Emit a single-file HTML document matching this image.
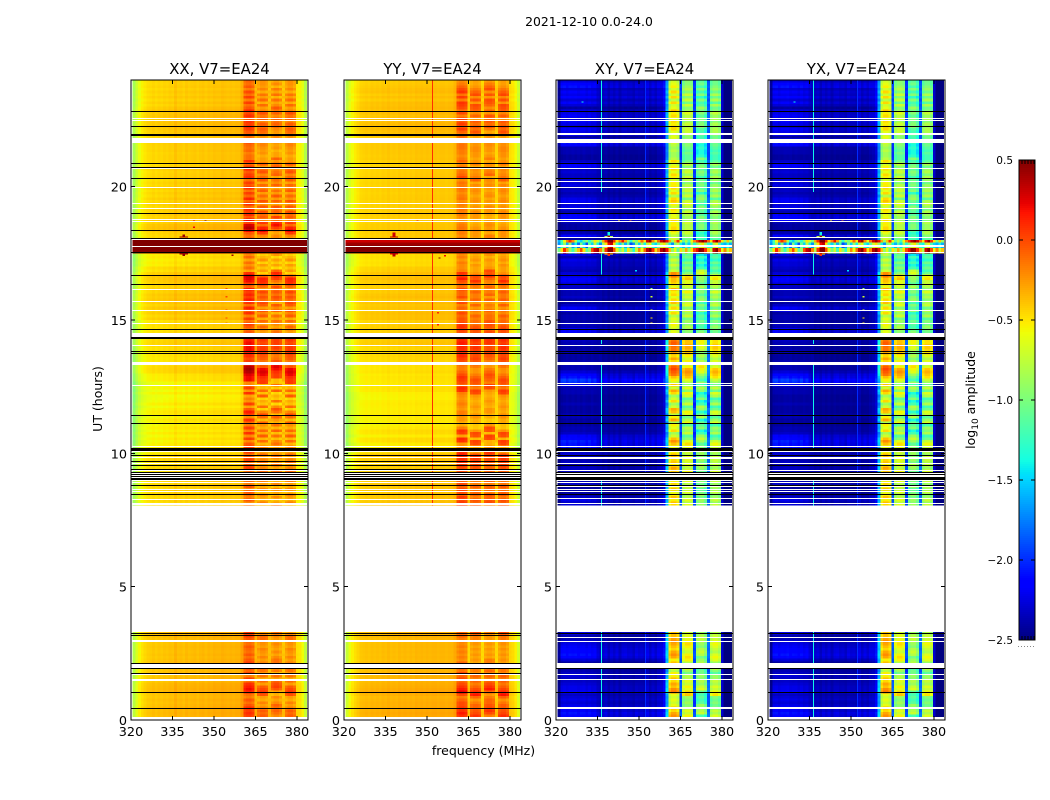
<!DOCTYPE html>
<html>
<head>
<meta charset="utf-8">
<title>2021-12-10 spectrogram</title>
<style>
html,body{margin:0;padding:0;background:#fff;width:1050px;height:800px;overflow:hidden}
svg{display:block}
text{font-family:"DejaVu Sans","Liberation Sans",sans-serif;fill:#000}
</style>
</head>
<body>
<svg id="fig" xmlns="http://www.w3.org/2000/svg" width="1050" height="800" viewBox="0 0 1050 800">
<rect x="0" y="0" width="1050" height="800" fill="#fff"/>
<text x="589" y="26" font-size="12.4" text-anchor="middle">2021-12-10 0.0-24.0</text>
<text x="483.5" y="755" font-size="12.5" text-anchor="middle">frequency (MHz)</text>
<text x="102" y="399" font-size="12.5" text-anchor="middle" transform="rotate(-90 102 399)">UT (hours)</text>
<text x="975" y="400" font-size="12.5" text-anchor="middle" transform="rotate(-90 975 400)">log<tspan font-size="9" dy="3">10</tspan><tspan dy="-3"> amplitude</tspan></text>
</svg>
<script>
// ---------- data (log10 amplitude) ----------
const xTicks = [320, 335, 350, 365, 380];
const yTicks = [0, 5, 10, 15, 20];
const cbarTicks = [0.5, 0, -0.5, -1, -1.5, -2, -2.5];
const panelTitles = ["XX, V7=EA24", "YY, V7=EA24", "XY, V7=EA24", "YX, V7=EA24"];
const dataRanges = [[0.12, 3.3], [8.05, 24]];

const xxProfile = [-0.82,-0.68,-0.58,-0.52,-0.48,-0.45,-0.44,-0.42,-0.44,-0.42,-0.43,-0.41,-0.42,-0.40,-0.41,-0.36,-0.40,-0.39,-0.41,-0.38,-0.40,-0.39,-0.38,-0.40,-0.38,-0.37,-0.39,-0.37,-0.38,-0.36,-0.37,-0.37,-0.35,-0.36,-0.37,-0.36,-0.37,-0.36,-0.36,-0.30,-0.08,-0.04,-0.03,-0.08,-0.34,-0.24,-0.18,-0.18,-0.22,-0.36,-0.26,-0.20,-0.20,-0.26,-0.38,-0.24,-0.18,-0.18,-0.24,-0.50,-0.52,-0.60,-0.78];
const yyProfile = [-0.75,-0.62,-0.55,-0.50,-0.46,-0.42,-0.41,-0.40,-0.41,-0.39,-0.40,-0.39,-0.40,-0.38,-0.39,-0.37,-0.39,-0.38,-0.39,-0.37,-0.38,-0.37,-0.38,-0.37,-0.38,-0.36,-0.37,-0.36,-0.37,-0.36,-0.37,-0.36,-0.36,-0.37,-0.36,-0.36,-0.37,-0.36,-0.36,-0.32,-0.12,-0.08,-0.08,-0.12,-0.42,-0.20,-0.16,-0.16,-0.20,-0.43,-0.20,-0.16,-0.16,-0.20,-0.42,-0.20,-0.14,-0.14,-0.20,-0.45,-0.48,-0.55,-0.70];
const xyProfile = [-2.42,-2.34,-2.32,-2.30,-2.32,-2.30,-2.32,-2.30,-2.33,-2.30,-2.32,-2.33,-2.30,-2.33,-2.32,-2.30,-2.35,-2.33,-2.36,-2.34,-2.36,-2.33,-2.36,-2.34,-2.36,-2.34,-2.36,-2.35,-2.36,-2.34,-2.36,-2.35,-2.30,-2.36,-2.34,-2.35,-2.30,-2.28,-2.20,-1.60,-0.62,-0.50,-0.50,-0.60,-1.90,-0.85,-0.75,-0.75,-0.82,-1.95,-1.10,-1.00,-1.00,-1.15,-1.85,-0.95,-0.85,-0.85,-0.95,-2.20,-2.40,-2.40,-2.42];
const yxProfile = [-2.42,-2.33,-2.32,-2.31,-2.32,-2.30,-2.31,-2.30,-2.33,-2.31,-2.32,-2.33,-2.31,-2.33,-2.32,-2.30,-2.35,-2.34,-2.36,-2.34,-2.36,-2.34,-2.36,-2.34,-2.36,-2.35,-2.36,-2.35,-2.36,-2.34,-2.36,-2.35,-2.30,-2.36,-2.35,-2.35,-2.31,-2.28,-2.20,-1.60,-0.62,-0.50,-0.50,-0.60,-1.90,-0.85,-0.75,-0.75,-0.82,-1.95,-1.10,-1.00,-1.00,-1.15,-1.85,-0.95,-0.85,-0.85,-0.95,-2.20,-2.40,-2.40,-2.42];

const coBandWeight = [.15,.15,.15,.15,.15,.15,.15,.15,.15,.15,.15,.15,.15,.15,.15,.15,.15,.15,.15,.15,.15,.15,.15,.15,.15,.15,.15,.15,.15,.15,.15,.15,.15,.15,.15,.15,.15,.15,.15,.15,1,1,1,1,.3,1,1,1,1,.3,1,1,1,1,.3,1,1,1,1,.15,.15,.15,.15];
const crossBandWeight = [0,0,0,0,0,0,0,0,0,0,0,0,0,0,0,0,0,0,0,0,0,0,0,0,0,0,0,0,0,0,0,0,0,0,0,0,0,0,0,.5,1,1,1,1,.3,1,1,1,1,.3,1,1,1,1,.3,1,1,1,1,0,0,0,0];
const crossShape = [.3,1,1,.8,1,.9,1,.8,1,.9,.8,1,.7,.9,.5,.3,.5,.6,.4,.6,.5,.6,.4,.6,.7,.5,.6,.4,.7,.5,.6,.4,.6,.5,.7,.5,.6,.5,.7,0,0,0,0,0,0,0,0,0,0,0,0,0,0,0,0,0,0,0,0,0,0,0,0];
// which neighbouring row each sub-band follows (stripes drift between sub-bands)
const bandRowShift = [0,0,0,0,0,0,0,0,0,0,0,0,0,0,0,0,0,0,0,0,0,0,0,0,0,0,0,0,0,0,0,0,0,0,0,0,0,0,0,0,0,0,0,0,0,1,1,1,1,0,-1,-1,-1,-1,0,1,1,1,1,0,0,0,0];

// per-row values (hundredths): 0.0-3.2 h then 8.0-23.9 h in 0.1 h steps
const xxBandRow = [0,5,8,5,8,0,-5,0,-8,-5,10,15,12,8,-5,5,-8,3,-3,3,5,5,0,-5,0,-5,-3,0,-5,-3,0,5,5,
-5,-10,0,-8,-5,0,-10,0,-8,-5,
0,-5,5,-5,5,0,-5,5,0,-5,
5,-5,5,0,-10,5,-10,8,-8,5,
-8,-3,8,-10,5,12,0,-15,5,-12,
-8,-15,8,-12,5,-10,-10,15,15,18,
25,28,25,10,5,3,8,10,15,15,
15,15,12,15,5,0,-5,0,5,-5,
5,-8,8,0,10,-5,8,12,5,10,
5,12,-3,5,15,18,20,8,-15,-5,
-12,-5,-15,-3,-10,-15,0,0,0,0,
0,-5,0,15,25,20,5,15,0,8,
5,10,-5,8,-3,10,-3,5,-5,8,
0,5,-5,8,5,0,10,5,-3,8,
-5,-5,-8,-3,-5,-3,0,0,-5,-3,
0,5,8,5,8,0,8,3,10,0,
-5,5,-8,5,-5,3,-8,0,-5,-3];
const yyBandRow = [0,10,15,10,8,5,5,0,-5,5,20,15,10,5,0,5,0,5,-3,0,0,0,-8,-5,-8,-5,-8,-5,-8,-5,-5,0,0,
10,8,5,8,0,5,5,0,5,0,
0,5,5,5,5,8,10,10,12,15,
10,-5,-10,-10,10,12,-12,8,10,-5,
-15,-15,-10,-10,-5,-5,-10,-8,-5,-8,
-10,-8,-5,10,12,0,5,8,10,5,
0,-5,-5,0,5,8,12,10,10,12,
15,15,12,15,10,5,8,10,8,3,
3,0,5,-3,0,-5,5,-5,5,0,
0,5,-3,0,5,15,8,10,-5,-8,
-8,-5,-10,-5,-8,-10,0,0,0,0,
0,-8,-5,-5,-3,-5,-8,-10,-8,-5,
-5,-3,-8,-5,-8,-3,-5,-8,-5,-3,
-5,-3,-8,5,0,-3,-5,-3,-8,0,
-5,-8,-5,-5,-3,-3,-5,-5,-3,-8,
0,8,3,8,3,8,-5,5,-3,5,
8,10,-5,8,-3,10,5,0,-5,-8];
const crossBandRow = [0,30,25,15,20,5,0,5,0,5,35,30,20,25,15,20,10,10,-5,5,25,20,10,25,30,25,15,20,25,30,25,20,20,
15,20,10,20,10,5,20,10,15,10,
20,25,10,20,25,10,20,15,20,20,
10,15,5,20,30,20,0,-10,15,5,
10,-10,25,10,-5,20,25,0,-10,15,
0,-10,15,25,0,20,0,10,20,35,
40,45,40,25,15,25,15,25,35,35,
40,40,35,35,15,5,0,5,10,0,
5,-5,15,5,15,0,20,15,5,15,
10,25,5,15,20,20,35,30,0,-10,
0,-10,0,-15,-5,-10,0,0,0,0,
0,-5,5,15,15,10,10,15,5,5,
10,15,0,10,20,15,-5,15,5,15,
10,10,0,10,15,5,15,10,0,15,
-5,-10,-10,-5,-10,-5,0,0,5,0,
5,15,15,10,15,5,15,10,20,5,
0,15,-5,15,0,15,0,10,5,0];
const crossBgRow = [0,30,35,25,30,20,15,20,15,10,25,20,20,15,10,10,15,10,5,0,0,0,15,30,35,30,30,25,20,10,5,5,20,
15,10,20,10,5,0,0,0,10,5,
10,15,5,10,10,5,10,5,10,15,
10,25,35,35,40,30,25,10,5,5,
0,0,0,5,5,0,0,0,5,0,
0,0,5,5,5,20,45,50,35,30,
15,5,5,5,5,0,0,5,5,0,
5,5,10,0,0,25,25,5,10,0,
5,5,0,15,25,10,0,0,10,5,
5,10,10,15,25,30,20,15,5,10,
15,15,20,5,20,35,0,0,0,0,
0,25,5,0,0,0,5,25,30,25,
5,15,20,15,25,20,10,5,10,5,
20,15,15,10,10,15,10,25,30,10,
0,0,5,5,5,30,35,30,0,20,
20,25,15,20,25,15,25,20,20,0,
15,25,15,30,20,25,15,35,30,15];
// hourly level of the co-polar background (hundredths), hours 0-23
const coLevel = [4,3,3,3,0,0,0,0,-3,-5,-12,-12,-14,-10,-6,-1,-3,-8,-2,-3,-4,-1,0,-2];
const coGain = 1.6;
const crossGain = 1.6;
const crossRowMean = 12;
const crossFloorShift = -0.1;

// interference storm rows for cross-hands
const stormA = [-1.6,-1.2,-0.6,-0.2,0.1,-0.2,-0.8,-1.3,-1.5,-1.1,-0.9,-1.3,-1.0,-0.5,-0.7,-1.0,-0.3,0.1,0.5,0.5,0.1,-0.5,-0.2,0.2,-0.3,-0.9,-1.3,-0.8,-1.0,-0.5,-0.1,-0.5,0.3,0.45,-0.2,-0.6,-0.1,0.3,0.45,0.2,-0.3,-0.9,-0.4,0.1,-0.6,-1.1,-0.8,-1.2,-0.6,-0.2,0.1,0.35,0.5,0.3,-0.1,-0.5,0.2,0.5,0.1,-0.5,-1.0,-0.4,-0.9];
const stormB = [-1.0,-0.5,0.1,-0.3,-0.9,-1.2,-0.8,-0.4,0.0,-0.5,-1.1,-0.9,0.0,0.3,0.4,-0.2,-0.8,0.1,0.5,0.5,0.0,-0.6,-1.0,-0.7,-1.2,-0.5,-0.9,-1.3,-0.7,-0.2,-0.6,-0.1,0.35,0.5,0.1,-0.5,-0.2,0.35,0.5,0.2,-0.4,-0.9,-0.6,-1.1,-0.5,-0.8,-0.3,-0.9,-0.5,0.0,0.2,0.5,0.45,0.1,-0.4,-0.8,0.3,0.5,0.0,-0.6,-0.2,-0.7,-0.4];
const stormC = [-1.7,-1.3,-0.9,-1.6,-1.0,-1.7,-1.4,-1.8,-1.0,-1.5,-1.9,-1.1,-1.5,-0.8,-1.4,-1.7,-0.9,-0.5,0.2,0.3,-0.5,-1.2,-1.5,-1.0,-1.6,-1.2,-1.9,-1.7,-1.0,-1.5,-0.9,-1.4,-0.8,-0.6,-1.3,-1.5,-1.1,-0.7,-0.5,-0.9,-1.4,-1.7,-1.0,-0.8,-1.4,-1.6,-1.2,-1.5,-0.9,-1.3,-1.0,-0.7,-0.5,-0.9,-1.3,-1.4,-0.8,-0.6,-1.2,-1.5,-1.6,-1.4,-1.6];

// flagged time ranges [startHour, endHour]
const coBlack = [[22.79,22.83],[22.23,22.27],[21.91,21.99],[20.84,20.88],[20.70,20.74],[20.28,20.32],[18.98,19.02],[18.35,18.38],[18.06,18.09],[17.51,17.54],[16.65,16.69],[16.31,16.35],[14.63,14.66],[14.27,14.35],[13.80,13.84],[13.73,13.76],[11.40,11.44],[11.10,11.14],[10.10,10.20],[9.90,9.94],[9.69,9.73],[9.51,9.55],[9.38,9.41],[9.2625,9.30],[9.1875,9.225],[9.1125,9.15],[9.0,9.075],[8.78,8.81],[8.44,8.48],[3.22,3.26],[3.14,3.18],[2.10,2.14],[1.91,1.95],[1.72,1.76],[1.01,1.05],[0.41,0.45]];
const coWhite = [[22.56,22.59],[22.47,22.50],[21.64,21.84],[20.66,20.69],[19.95,19.99],[19.34,19.38],[19.16,19.20],[18.76,18.80],[18.68,18.71],[18.00,18.04],[17.74,17.78],[17.54,17.56],[16.13,16.16],[15.68,15.71],[15.34,15.38],[14.85,14.89],[14.36,14.51],[14.03,14.06],[13.31,13.42],[12.53,12.58],[10.26,10.29],[10.05,10.09],[9.83,9.86],[9.60,9.64],[9.34,9.37],[9.225,9.2625],[9.15,9.1875],[9.075,9.1125],[8.96,9.00],[8.87,8.91],[8.64,8.67],[8.55,8.59],[8.25,8.29],[8.08,8.12],[2.93,3.00],[1.95,2.10],[1.69,1.72],[1.48,1.54]];
const crossBlack = [[22.79,22.83],[22.23,22.27],[20.84,20.88],[20.28,20.32],[18.98,19.02],[18.35,18.38],[16.65,16.69],[16.31,16.35],[14.63,14.66],[14.25,14.35],[13.80,13.84],[13.73,13.76],[11.40,11.44],[11.10,11.14],[10.10,10.21],[9.90,9.94],[9.51,9.55],[9.2625,9.30],[9.1875,9.225],[9.0,9.1],[8.78,8.81],[8.44,8.48],[3.22,3.26],[1.91,1.95],[1.01,1.05]];
const crossWhite = [[22.56,22.59],[22.47,22.50],[21.95,22.00],[21.64,21.80],[20.66,20.69],[20.19,20.22],[19.95,19.99],[19.34,19.38],[19.16,19.20],[18.76,18.80],[18.68,18.71],[18.08,18.12],[17.74,17.83],[17.50,17.56],[16.13,16.16],[15.68,15.71],[15.34,15.38],[14.85,14.89],[14.38,14.53],[14.03,14.06],[13.33,13.43],[12.60,12.64],[12.52,12.56],[10.26,10.29],[10.05,10.09],[9.77,9.85],[9.60,9.64],[9.34,9.38],[9.225,9.2625],[9.15,9.1875],[9.1,9.1375],[8.96,9.00],[8.88,8.92],[8.74,8.76],[8.64,8.68],[8.56,8.60],[8.27,8.31],[8.09,8.13],[3.08,3.13],[2.94,2.98],[1.95,2.14],[1.70,1.74],[1.50,1.54],[0.43,0.47]];

// narrow-band interference lines: MHz, level and the hours where they show
const crossLineFreq = 336.1;
const crossLineLevel = -1.4;
const crossLineHours = [[19.8,24],[16.7,17.5],[14.1,14.3],[10.2,13.4],[8.05,9.0],[0.12,3.3]];
const crossFaintFreq = 352.2;
const crossFaintLevel = -2.0;
const crossFaintHours = [[8.05,17.5],[18.1,24],[0.12,3.3]];
const yyLineFreq = 351.9;
const yyLineLevel = 0.08;
const yyLineHours = [[8.05,17.5],[18.0,24]];

// spikes around the storm: [channel, startHour, endHour, value]
const xxSpikes = [[18,17.4,17.5,0.45],[17,17.46,17.5,0.42],[19,17.46,17.5,0.42],[18,18.1,18.2,0.42],[17,18.1,18.13,0.4],[19,18.1,18.13,0.4]];
const yySpikes = [[17,17.38,17.5,0.35],[16,17.46,17.5,0.25],[18,17.46,17.5,0.25],[17,18.1,18.28,0.3],[16,18.1,18.14,0.35],[18,18.1,18.14,0.35]];
const crossSpikes = [[18,17.4,17.5,0.1],[17,17.45,17.5,-0.5],[19,17.45,17.5,-0.5],[18,18.1,18.16,0.4],[18,18.16,18.3,-1.4],[17,18.1,18.15,-0.8],[19,18.1,18.15,-0.8]];

// isolated bright pixels: [MHz, hour, value]
const xxSparks = [[342.5,18.79,0.2],[346.5,18.74,0.5],[342.5,18.5,0.2],[356.3,17.45,0.4],[354.1,16.2,0],[354.1,15.9,0],[354.1,15.4,0],[354.1,15.1,0],[354.1,14.9,-0.1]];
const yySparks = [[346.3,18.74,0.1],[354.1,17.35,0.5],[356.2,17.44,0.2],[353.7,15.3,0.1],[353.7,14.85,0.1]];
const crossSparks = [[354.1,16.2,-0.9],[354.1,15.9,-0.7],[354.1,15.4,-0.6],[354.1,15.1,-0.5],[354.1,14.9,-0.5],[348.6,16.88,-1.5],[342.5,18.79,-0.5],[346.5,18.74,-0.1],[329.3,23.2,-1.4]];

// ---------- axis functions ----------
const plotTop = 80, plotBottom = 720, plotWidth = 177;
const fMin = 320, fMax = 384, hMax = 24, cellOffset = 320.6;
function xAxis(x0, f){ return x0 + (f - fMin) * plotWidth / (fMax - fMin); }
function yAxis(h){ return plotBottom - h * (plotBottom - plotTop) / hMax; }
function cbarY(v){ return 160 + (0.5 - v) * 480 / 3; }
function rowStart(r){ return r < 33 ? r / 10 : 8 + (r - 33) / 10; }

function jet(v){
  const t = Math.max(0, Math.min(1, (v + 2.5) / 3));
  const ramp = function(a){ return Math.max(0, Math.min(1, a)); };
  const r = ramp(t < 0.89 ? (t - 0.35) / 0.31 : 1 - (t - 0.89) / 0.11 * 0.5);
  const g = ramp(t < 0.64 ? (t - 0.125) / 0.25 : (0.91 - t) / 0.27);
  const b = ramp(t < 0.11 ? 0.5 + t / 0.11 * 0.5 : (0.65 - t) / 0.31);
  return "rgb(" + Math.round(r * 255) + "," + Math.round(g * 255) + "," + Math.round(b * 255) + ")";
}

const NS = "http://www.w3.org/2000/svg";
const fig = document.getElementById("fig");
function make(tag, attrs, parent){
  const el = document.createElementNS(NS, tag);
  for (const k in attrs) el.setAttribute(k, attrs[k]);
  (parent || fig).appendChild(el);
  return el;
}

const panels = [
  {x0:131, key:"xx", kind:"co", profile:xxProfile, bandRow:xxBandRow, black:coBlack, white:coWhite, spikes:xxSpikes, sparks:xxSparks},
  {x0:344, key:"yy", kind:"co", profile:yyProfile, bandRow:yyBandRow, black:coBlack, white:coWhite, spikes:yySpikes, sparks:yySparks},
  {x0:556, key:"xy", kind:"cross", profile:xyProfile, bandRow:crossBandRow, black:crossBlack, white:crossWhite, spikes:crossSpikes, sparks:crossSparks},
  {x0:768, key:"yx", kind:"cross", profile:yxProfile, bandRow:crossBandRow, black:crossBlack, white:crossWhite, spikes:crossSpikes, sparks:crossSparks}
];

function cellValue(p, r, i, h){
  const rs = Math.max(0, Math.min(p.bandRow.length - 1, r + bandRowShift[i]));
  if (p.kind === "co") {
    if (h >= 17.5 && h < 18.0) {
      if (p.key === "xx") return 0.5;
      if (h >= 17.8) return h >= 17.9 ? 0.3 : 0.42;
      return 0.5;
    }
    let v = p.profile[i] + coGain * p.bandRow[rs] / 100 * coBandWeight[i];
    if (i < 40 || i > 58) v += coLevel[Math.floor(h)] / 100;
    return v;
  }
  if (h >= 17.5 && h < 18.0) {
    if (h >= 17.9) return stormA[i];
    if (h >= 17.7) return stormC[i];
    return stormB[i];
  }
  if (crossBandWeight[i] > 0) {
    return p.profile[i] + crossGain * (p.bandRow[rs] - crossRowMean) / 100 * crossBandWeight[i];
  }
  return p.profile[i] + crossFloorShift + crossBgRow[r] / 100 * crossShape[i];
}

function drawLine(g, p, freq, level, hours, name){
  hours.forEach(function(s){
    const l = make("rect", {x:Math.round(xAxis(p.x0, freq)), y:yAxis(s[1]), width:1, height:yAxis(s[0]) - yAxis(s[1]), fill:jet(level)}, g);
    
    
  });
}

panels.forEach(function(p){
  const g = make("g", {"shape-rendering":"crispEdges"});
  
  
  const nRows = p.bandRow.length;
  for (let r = 0; r < nRows; r++) {
    const h0 = rowStart(r), h1 = h0 + 0.1;
    const low = r < 33 ? dataRanges[0] : dataRanges[1];
    const a = Math.max(h0, low[0]), b = Math.min(h1, low[1]);
    if (b <= a) continue;
    const yTop = yAxis(b), yBot = yAxis(a);
    for (let i = 0; i < p.profile.length; i++) {
      const xl = xAxis(p.x0, cellOffset + i), xr = xAxis(p.x0, cellOffset + i + 1);
      const c = make("rect", {x:xl, y:yTop, width:xr - xl, height:yBot - yTop, fill:jet(cellValue(p, r, i, h0))}, g);
      
      
    }
  }
  if (p.key === "yy") drawLine(g, p, yyLineFreq, yyLineLevel, yyLineHours, 'rfi-line');
  if (p.kind === "cross") {
    drawLine(g, p, crossFaintFreq, crossFaintLevel, crossFaintHours, 'rfi-line-faint');
    drawLine(g, p, crossLineFreq, crossLineLevel, crossLineHours, 'rfi-line');
  }
  p.spikes.forEach(function(s){
    const xl = xAxis(p.x0, cellOffset + s[0]), xr = xAxis(p.x0, cellOffset + s[0] + 1);
    const c = make("rect", {x:xl, y:yAxis(s[2]), width:xr - xl, height:yAxis(s[1]) - yAxis(s[2]), fill:jet(s[3])}, g);
    
    
  });
  p.sparks.forEach(function(s){
    const c = make("rect", {x:xAxis(p.x0, s[0]), y:yAxis(s[1]), width:2, height:1.4, fill:jet(s[2])}, g);
    
    
  });
  p.white.forEach(function(s){
    const top = Math.round(yAxis(s[1]));
    const c = make("rect", {x:p.x0, y:top, width:plotWidth, height:Math.max(1, Math.round(yAxis(s[0])) - top), fill:"#fff"}, g);
    
    
  });
  p.black.forEach(function(s){
    const top = Math.round(yAxis(s[1]));
    const c = make("rect", {x:p.x0, y:top, width:plotWidth, height:Math.max(1, Math.round(yAxis(s[0])) - top), fill:"#000"}, g);
    
    
  });

  // ticks
  const tg = make("g", {stroke:"#000", "stroke-width":"1", "shape-rendering":"crispEdges"});
  
  
  xTicks.forEach(function(t){
    const x = xAxis(p.x0, t);
    make("line", {x1:x, x2:x, y1:plotBottom, y2:plotBottom - 4}, tg);
    make("line", {x1:x, x2:x, y1:plotTop, y2:plotTop + 4}, tg);
    const l = make("text", {x:x, y:plotBottom + 16, "font-size":"12.8", "text-anchor":"middle"});
    
    
    l.textContent = String(t);
  });
  yTicks.forEach(function(t){
    const y = yAxis(t);
    make("line", {x1:p.x0, x2:p.x0 + 4, y1:y, y2:y}, tg);
    make("line", {x1:p.x0 + plotWidth, x2:p.x0 + plotWidth - 4, y1:y, y2:y}, tg);
    const l = make("text", {x:p.x0 - 4, y:y + 5, "font-size":"12.8", "text-anchor":"end"});
    
    
    l.textContent = String(t);
  });

  const frame = make("rect", {x:p.x0, y:plotTop, width:plotWidth, height:plotBottom - plotTop, fill:"none", stroke:"#000", "stroke-width":"1"});
  
  

  const title = make("text", {x:p.x0 + plotWidth / 2, y:74, "font-size":"14.9", "text-anchor":"middle"});
  
  
  title.textContent = panelTitles[panels.indexOf(p)];
});

// ---------- colorbar ----------
const cbG = make("g", {"shape-rendering":"crispEdges"});


for (let y = 160; y < 640; y += 2) {
  const v = 0.5 - (y + 1 - 160) * 3 / 480;
  const s = make("rect", {x:1019, y:y, width:16, height:2, fill:jet(v)}, cbG);
  
  
}
const cbTicks = make("g", {stroke:"#000", "stroke-width":"1", "shape-rendering":"crispEdges"});


cbarTicks.forEach(function(v){
  const y = cbarY(v);
  make("line", {x1:1019, x2:1023, y1:y, y2:y}, cbTicks);
  make("line", {x1:1031, x2:1035, y1:y, y2:y}, cbTicks);
  const l = make("text", {x:1013, y:y + 4, "font-size":"10.5", "text-anchor":"end"});
  
  
  l.textContent = (v < 0 ? "\u2212" : "") + Math.abs(v).toFixed(1);
});
[1022, 1025, 1028, 1031, 1034].forEach(function(x){
  make("line", {x1:x, x2:x, y1:160, y2:164}, cbTicks);
  make("line", {x1:x, x2:x, y1:640, y2:636}, cbTicks);
});
const cbFrame = make("rect", {x:1019, y:160, width:16, height:480, fill:"none", stroke:"#000", "stroke-width":"1"});


for (let x = 1018; x < 1035; x += 3) {
  const d = make("rect", {x:x, y:646, width:1, height:1, fill:"#888"});
  
  
}
</script>
</body>
</html>
